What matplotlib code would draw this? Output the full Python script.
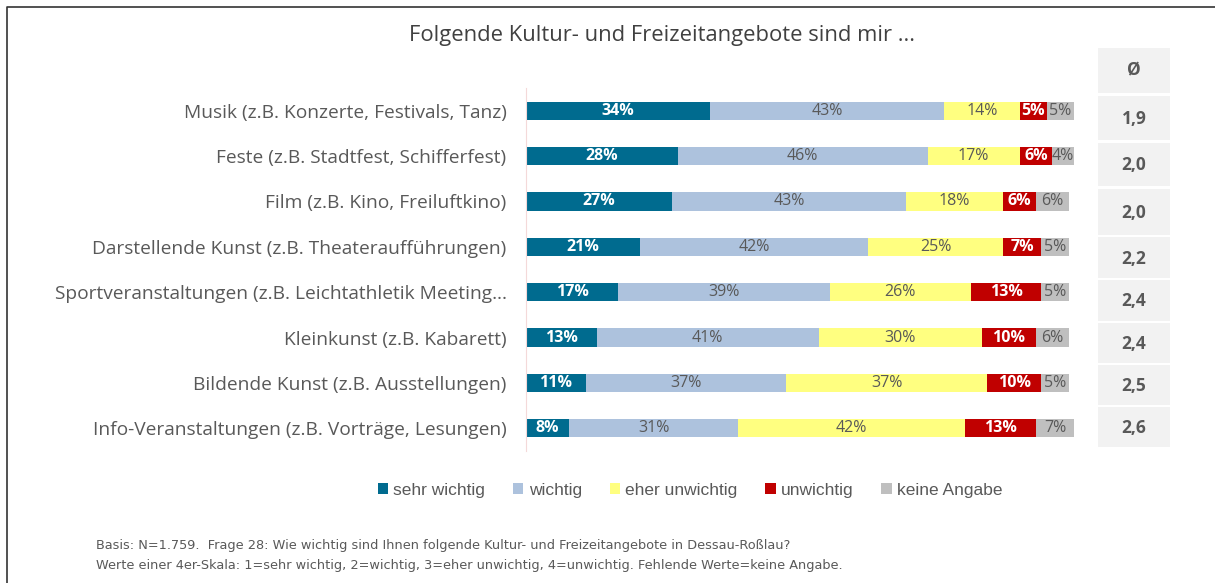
import matplotlib.pyplot as plt
from matplotlib.patches import Rectangle

# data
categories = [
    "Musik (z.B. Konzerte, Festivals, Tanz)",
    "Feste (z.B. Stadtfest, Schifferfest)",
    "Film (z.B. Kino, Freiluftkino)",
    "Darstellende Kunst (z.B. Theateraufführungen)",
    "Sportveranstaltungen (z.B. Leichtathletik Meeting…",
    "Kleinkunst (z.B. Kabarett)",
    "Bildende Kunst (z.B. Ausstellungen)",
    "Info-Veranstaltungen (z.B. Vorträge, Lesungen)",
]
sehr_wichtig = [34, 28, 27, 21, 17, 13, 11, 8]
wichtig = [43, 46, 43, 42, 39, 41, 37, 31]
eher_unwichtig = [14, 17, 18, 25, 26, 30, 37, 42]
unwichtig = [5, 6, 6, 7, 13, 10, 10, 13]
keine_angabe = [5, 4, 6, 5, 5, 6, 5, 7]
averages = ["1,9", "2,0", "2,0", "2,2", "2,4", "2,4", "2,5", "2,6"]
series_names = ["sehr wichtig", "wichtig", "eher unwichtig", "unwichtig", "keine Angabe"]

colors = ["#006b8f", "#adc2dd", "#ffff80", "#c00000", "#bfbfbf"]
text_colors = ["white", "#595959", "#595959", "white", "#595959"]

W, H = 1215, 583
fig = plt.figure(figsize=(W / 100, H / 100), dpi=100)
fig.patch.set_facecolor("white")

# overlay axes in pixel coordinates for frame, title, table, footnote
bg = fig.add_axes([0, 0, 1, 1])
bg.set_xlim(0, W)
bg.set_ylim(H, 0)
bg.axis("off")

bg.plot([7, 7, W + 5], [H + 5, 7, 7], color="#333333", lw=1.2)

bg.text(662, 35, "Folgende Kultur- und Freizeitangebote sind mir ...", ha="center", va="center",
        fontsize=15.8, color="#404040", family="Open Sans")

# average table
bg.add_patch(Rectangle((1098, 48), 72, 45, color="#f2f2f2", lw=0))
bg.text(1134, 70, "Ø", ha="center", va="center", fontsize=12.5, fontweight="bold",
        color="#595959", family="Open Sans")
cell_tops = [96, 143, 189, 237, 280, 323, 365, 407]
cell_bottoms = [140, 186, 235, 278, 321, 363, 405, 447]
for top, bottom, val in zip(cell_tops, cell_bottoms, averages):
    bg.add_patch(Rectangle((1098, top), 72, bottom - top, color="#f2f2f2", lw=0))
    bg.text(1134, (top + bottom) / 2 + 1, val, ha="center", va="center", fontsize=12.5,
            fontweight="bold", color="#595959", family="Open Sans")

# footnote
note_font = ["Liberation Sans Narrow", "DejaVu Sans"]
bg.text(96, 546, "Basis: N=1.759.  Frage 28: Wie wichtig sind Ihnen folgende Kultur- und Freizeitangebote in Dessau-Roßlau?",
        ha="left", va="center", fontsize=9.3, color="#595959", family=note_font)
bg.text(96, 565, "Werte einer 4er-Skala: 1=sehr wichtig, 2=wichtig, 3=eher unwichtig, 4=unwichtig. Fehlende Werte=keine Angabe.",
        ha="left", va="center", fontsize=9.3, color="#595959", family=note_font)

# bar chart
ax_left, ax_right = 526, 1074
ax_top, ax_bottom = 88, 451
ax = fig.add_axes([ax_left / W, 1 - ax_bottom / H, (ax_right - ax_left) / W, (ax_bottom - ax_top) / H])
ax.set_xlim(0, 101)
ax.set_ylim(len(categories) - 0.5, -0.5)

series = [sehr_wichtig, wichtig, eher_unwichtig, unwichtig, keine_angabe]
ypos = list(range(len(categories)))
left = [0] * len(categories)
for vals, name, col, tcol in zip(series, series_names, colors, text_colors):
    ax.barh(ypos, vals, left=left, height=0.4, color=col, label=name)
    for y, v, l in zip(ypos, vals, left):
        ax.text(l + v / 2, y, f"{v}%", ha="center", va="center", fontsize=11.5,
                color=tcol, fontweight="bold" if tcol == "white" else "normal", family="Open Sans")
    left = [a + b for a, b in zip(left, vals)]

ax.set_yticks(ypos)
ax.set_yticklabels(categories, fontsize=13.8, color="#595959", family="Open Sans")
ax.tick_params(axis="y", length=0, pad=14)
ax.set_xticks([])
for s in ["top", "right", "bottom"]:
    ax.spines[s].set_visible(False)
ax.spines["left"].set_color("#f4d9d9")
ax.spines["left"].set_linewidth(0.8)

fig.legend(*ax.get_legend_handles_labels(), loc="center", bbox_to_anchor=(690 / W, 1 - 490 / H),
           ncol=5, frameon=False, handlelength=0.6, handleheight=0.6,
           handletextpad=0.3, columnspacing=1.6, labelcolor="#595959",
           prop={"family": "Liberation Sans", "size": 12.5})

fig.savefig("out.png", dpi=100)
